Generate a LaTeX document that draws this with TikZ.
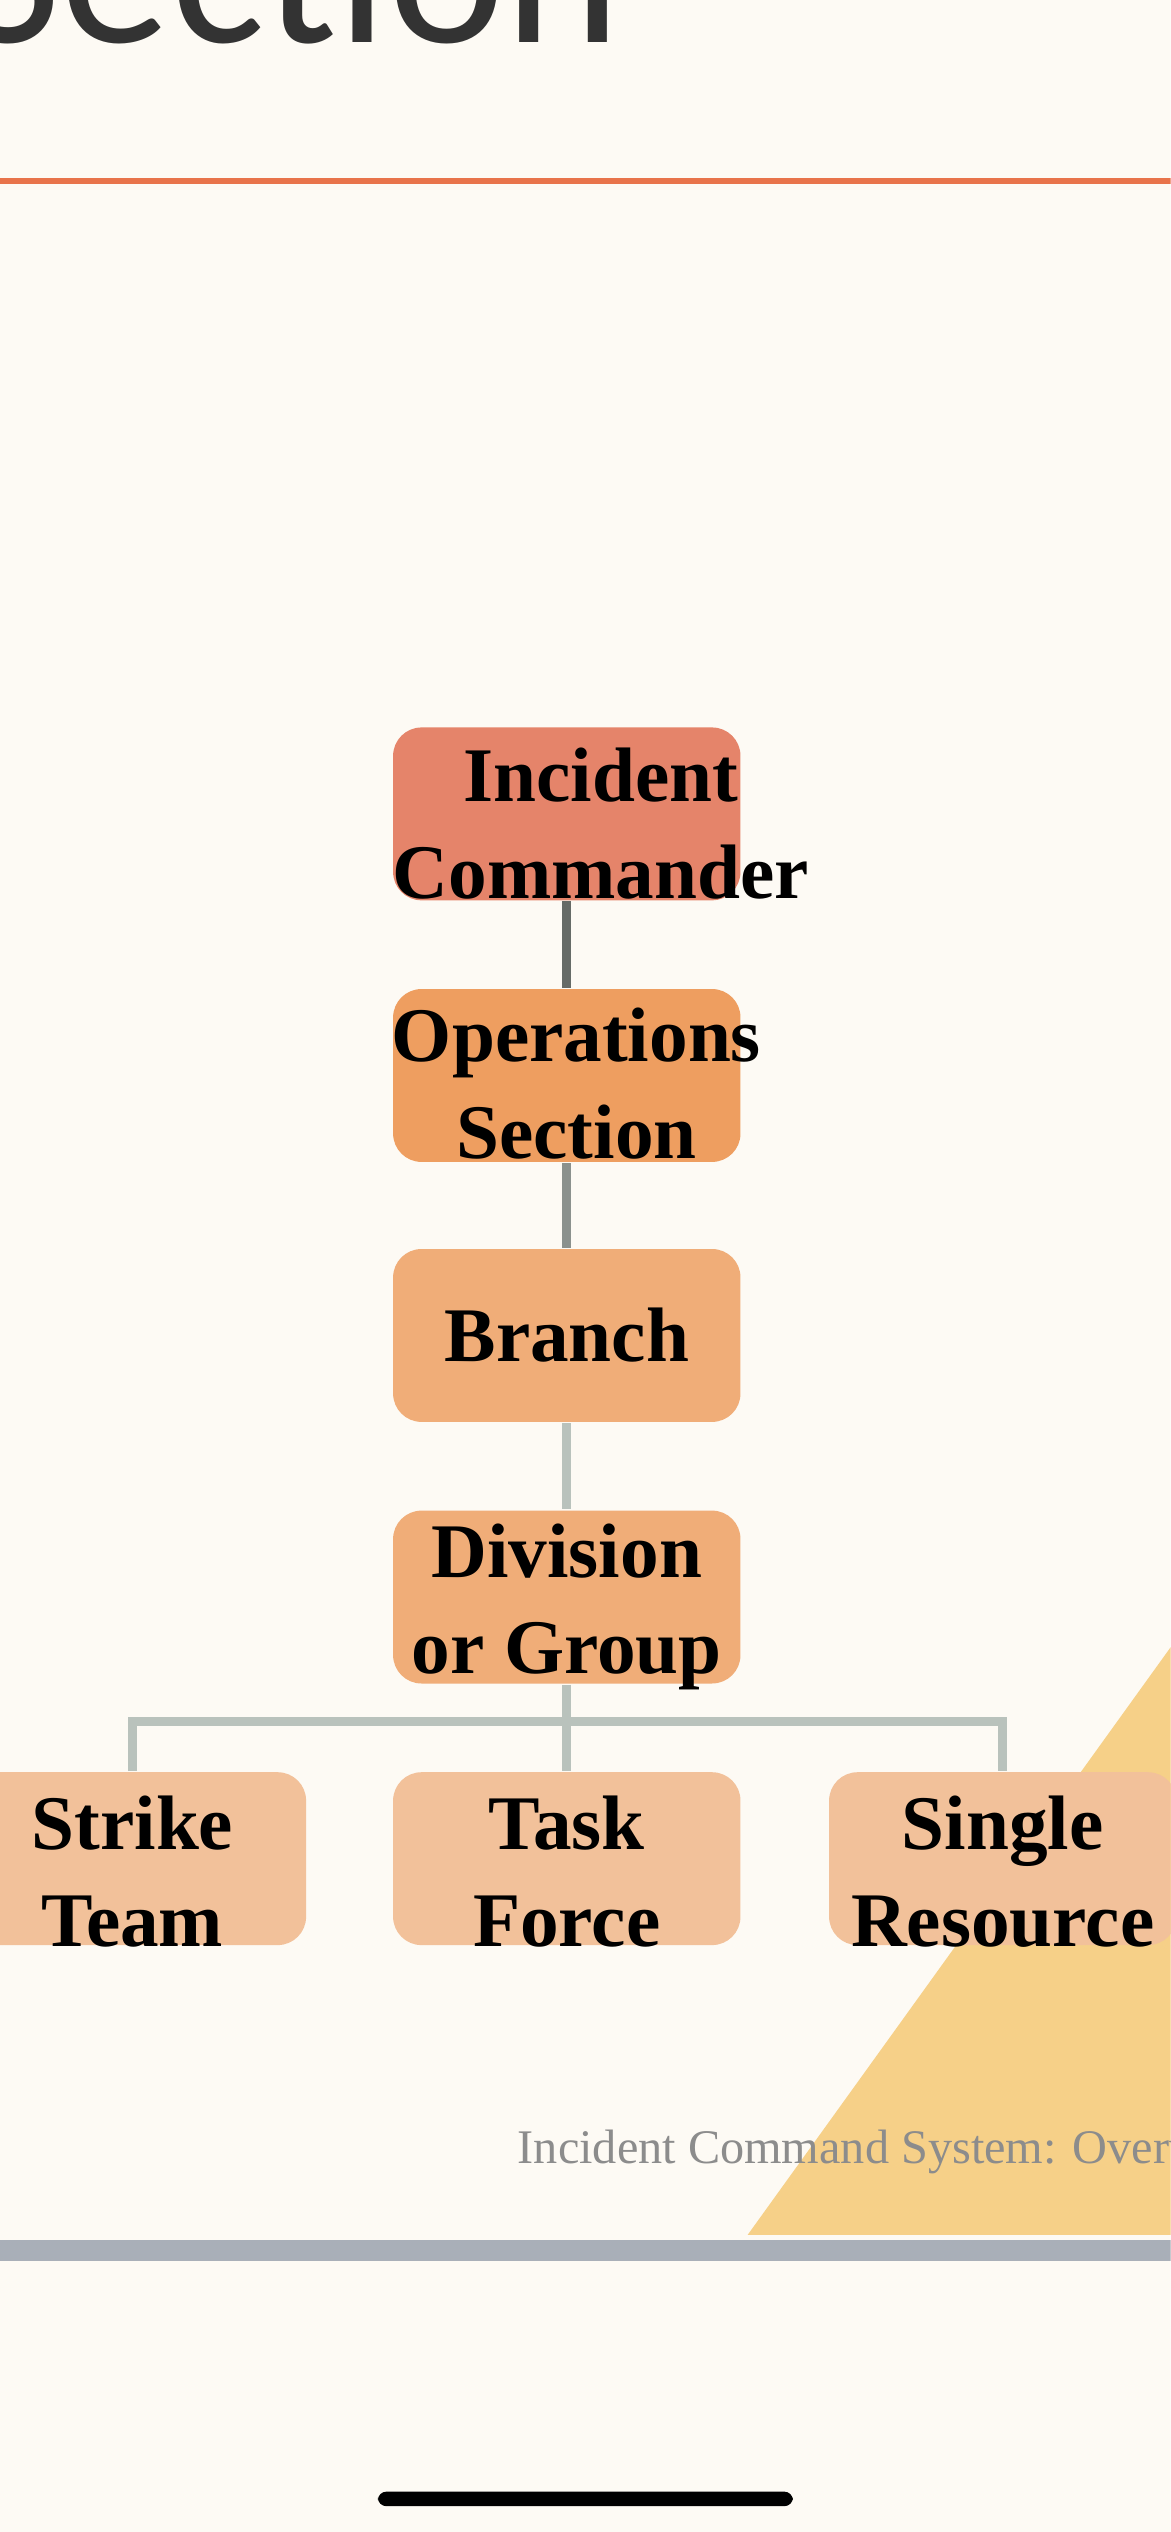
\documentclass[tikz,border=0pt]{standalone}
\usepackage{fontspec}
\setmainfont{Liberation Serif}
\newfontfamily\titlefont{Carlito}
\definecolor{bgcream}{HTML}{FDFAF4}
\definecolor{rulered}{HTML}{E8734A}
\definecolor{icfill}{HTML}{E5846A}
\definecolor{opsfill}{HTML}{EE9E60}
\definecolor{brfill}{HTML}{F0AD78}
\definecolor{lowfill}{HTML}{F2C19A}
\definecolor{linkgray}{HTML}{B9C2BC}
\definecolor{triyellow}{HTML}{F6D088}
\definecolor{bargray}{HTML}{A9AFB8}
\begin{document}
\begin{tikzpicture}
[x=0.01cm,y=-0.01cm,
box/.style={rectangle,rounded corners=5pt,minimum width=2.15cm,minimum height=1.07cm,inner sep=0pt},
lbl/.style={font=\bfseries\fontsize{13.6}{17}\selectfont,align=center,inner sep=0pt},
link/.style={draw=linkgray,line width=1.6pt},
]
\useasboundingbox (0,0) rectangle (725,1568);
\clip (0,0) rectangle (725,1568);
\fill[bgcream] (0,0) rectangle (725,1568);
% background pieces
\fill[triyellow] (463,1384) -- (725,1020) -- (725,1384) -- cycle;
\node[anchor=base west,inner sep=0pt,font=\titlefont\fontsize{39}{39}\selectfont,text=black!80] (title) at (-26,26) {Section};
\draw[rulered,line width=1pt] (0,112) -- (725,112);
\fill[bargray] (0,1387) rectangle (725,1400);
\fill[black,rounded corners=1.5pt] (234,1543) rectangle (491,1552);
% boxes
\node[box,fill=icfill] (ic) at (351,504) {};
\node[box,fill=opsfill] (ops) at (351,666) {};
\node[box,fill=brfill] (br) at (351,827) {};
\node[box,fill=brfill] (div) at (351,989) {};
\node[box,fill=lowfill] (st) at (82,1151) {};
\node[box,fill=lowfill] (tf) at (351,1151) {};
\node[box,fill=lowfill] (sr) at (621,1151) {};
% connectors
\draw[link,draw=black!45!linkgray] (ic.south) -- (ops.north);
\draw[link,draw=black!25!linkgray] (ops.south) -- (br.north);
\draw[link] (br.south) -- (div.north);
\coordinate (fork) at (351,1066);
\draw[link] (div.south) -- (fork) -- (tf.north);
\draw[link] (st.north) |- (fork) -| (sr.north);
% labels
\node[lbl] (icl) at (372,510) {Incident\\Commander};
\node[lbl] (opsl) at (357,671) {Operations\\Section};
\node[lbl] (brl) at (351,827) {Branch};
\node[lbl] (divl) at (351,995) {Division\\or Group};
\node[lbl] (stl) at (82,1159) {Strike\\Team};
\node[lbl] (tfl) at (351,1159) {Task\\Force};
\node[lbl] (srl) at (621,1159) {Single\\Resource};
\node[anchor=base west,inner sep=0pt,text=black!45,font=\fontsize{8.5}{10}\selectfont] (foot) at (320,1340) {Incident Command System: Overview};
\end{tikzpicture}
\end{document}
